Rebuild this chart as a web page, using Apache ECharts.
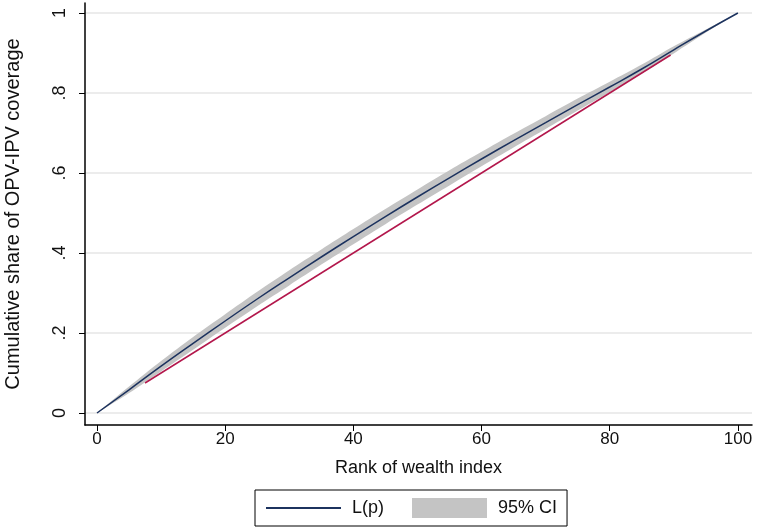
<!DOCTYPE html>
<html>
<head>
<meta charset="utf-8">
<script src="https://cdn.jsdelivr.net/npm/echarts@6/dist/echarts.min.js"></script>
<style>
  html, body { margin: 0; padding: 0; background: #fff; }
  #main { width: 758px; height: 531px; }
</style>
</head>
<body>
<div id="main"></div>
<script>
// rank of wealth index (x) and the concentration curve L(p)
var rank = [0, 5, 10, 15, 20, 25, 30, 35, 40, 45, 50, 55, 60, 65, 70, 75, 80, 85, 90, 95, 100];
var lp = [0, 0.058, 0.117, 0.174, 0.23, 0.285, 0.338, 0.39, 0.441, 0.491, 0.54, 0.588, 0.635, 0.681, 0.726, 0.771, 0.815, 0.86, 0.908, 0.955, 1.0];
// 95% CI bounds
var ciLow = [0, 0.05, 0.104, 0.158, 0.213, 0.267, 0.319, 0.371, 0.422, 0.472, 0.521, 0.569, 0.617, 0.664, 0.71, 0.756, 0.802, 0.849, 0.899, 0.951, 1.0];
var ciHigh = [0, 0.066, 0.13, 0.19, 0.247, 0.303, 0.357, 0.409, 0.46, 0.51, 0.559, 0.607, 0.653, 0.698, 0.742, 0.786, 0.828, 0.871, 0.917, 0.959, 1.0];
// line of equality (drawn part)
var eqX = [7.5, 89.5];
var eqY = [0.075, 0.895];

var xTicks = [0, 20, 40, 60, 80, 100];
var yTicks = [0, 0.2, 0.4, 0.6, 0.8, 1];
var yTickText = { '0': '0', '0.2': '.2', '0.4': '.4', '0.6': '.6', '0.8': '.8', '1': '1' };

function pairs(xs, ys) {
  return xs.map(function (x, i) { return [x, ys[i]]; });
}

var chart = echarts.init(document.getElementById('main'));
var font = 'Liberation Sans, Arial, sans-serif';

// CI band as one polygon: upper edge forward, lower edge back
function renderBand(params, api) {
  var pts = [];
  for (var i = 0; i < rank.length; i++) pts.push(api.coord([rank[i], ciHigh[i]]));
  for (var j = rank.length - 1; j >= 0; j--) pts.push(api.coord([rank[j], ciLow[j]]));
  return {
    type: 'polygon',
    shape: { points: pts, smooth: 0.3 },
    style: { fill: '#c4c4c4' },
    silent: true
  };
}

var option = {
  backgroundColor: '#fff',
  animation: false,
  grid: { left: 85, right: 6, top: 3, bottom: 106, containLabel: false, outerBoundsMode: 'none' },
  legend: {
    left: 255, top: 490,
    orient: 'horizontal',
    padding: [8, 10, 8, 10],
    borderColor: '#000', borderWidth: 1,
    itemWidth: 75, itemHeight: 20, itemGap: 28,
    textStyle: { fontFamily: font, fontSize: 18, color: '#111', padding: [0, 0, 0, 6] },
    data: [
      { name: 'L(p)', itemStyle: { opacity: 0 } },
      { name: '95% CI', icon: 'rect', itemStyle: { color: '#c4c4c4' } }
    ]
  },
  xAxis: {
    type: 'value',
    min: -1.87, max: 102.2,
    name: 'Rank of wealth index',
    nameLocation: 'middle',
    nameGap: 34,
    nameTextStyle: { fontFamily: font, fontSize: 18, color: '#111' },
    axisLine: { show: true, onZero: false, lineStyle: { color: '#000', width: 1.5 } },
    axisTick: { show: true, customValues: xTicks, length: 6, lineStyle: { color: '#000' } },
    axisLabel: { customValues: xTicks, fontFamily: font, fontSize: 17, color: '#111', margin: 6 },
    splitLine: { show: false }
  },
  yAxis: {
    type: 'value',
    min: -0.03, max: 1.025,
    name: 'Cumulative share of OPV-IPV coverage',
    nameLocation: 'middle',
    nameRotate: 90,
    nameGap: 62,
    nameTextStyle: { fontFamily: font, fontSize: 20, color: '#111' },
    axisLine: { show: true, onZero: false, lineStyle: { color: '#000', width: 1.5 } },
    axisTick: { show: true, customValues: yTicks, length: 6, lineStyle: { color: '#000' } },
    axisLabel: {
      customValues: yTicks, rotate: 90, fontFamily: font, fontSize: 18, color: '#111', margin: 16,
      formatter: function (v) { return yTickText[String(+v.toFixed(1))]; }
    },
    splitLine: { show: true, customValues: yTicks, lineStyle: { color: '#e6e6e6', width: 1.5 } }
  },
  series: [
    {
      name: '95% CI', type: 'custom', silent: true,
      itemStyle: { color: '#c4c4c4' },
      renderItem: renderBand,
      data: [[rank[0], ciLow[0]]], z: 1
    },
    {
      name: 'Equality', type: 'line', symbol: 'none', silent: true,
      lineStyle: { color: '#b3174c', width: 1.5 },
      data: pairs(eqX, eqY), z: 2
    },
    {
      name: 'L(p)', type: 'line', symbol: 'none', smooth: true, silent: true,
      itemStyle: { color: '#1c325e' },
      lineStyle: { color: '#1c325e', width: 1.5 },
      data: pairs(rank, lp), z: 3
    }
  ]
};

chart.setOption(option);
</script>
</body>
</html>
